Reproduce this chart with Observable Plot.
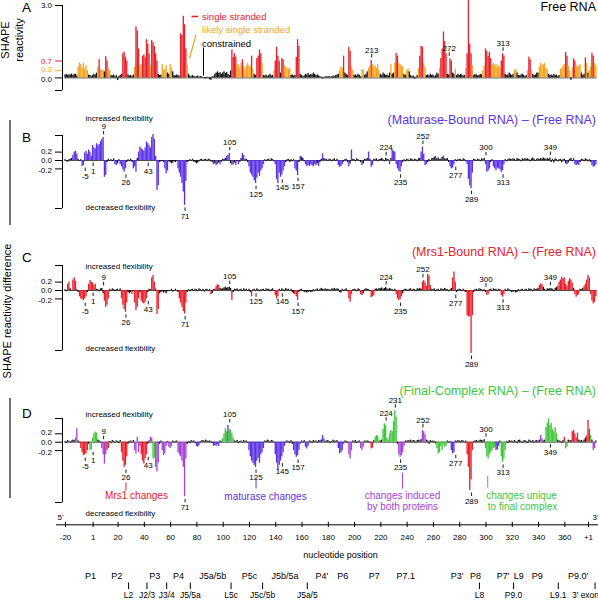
<!DOCTYPE html>
<html><head><meta charset="utf-8">
<script src="https://cdn.jsdelivr.net/npm/d3@7"></script>
<script src="https://cdn.jsdelivr.net/npm/@observablehq/plot@0.6"></script>
<style>
body{margin:0;background:#fff;}
#fig{position:relative;width:598px;height:600px;overflow:hidden;background:#fff;}
#fig svg{position:absolute;left:0;}
</style></head><body><div id="fig"></div>
<script>
// ---------- DATA (one value per nucleotide, from -20 to +384 on the position axis) ----------
const firstNt = -20;
const freeRNA = [
 .12,.15,.1,.13,.12,.16,.1,.14,.15,.08,
 .45,.62,.55,.4,.6,.35,.5,.3,.12,.1,
 .05,.1,.15,.12,.2,.45,.76,.32,.35,.3,
 .25,.88,.7,.38,.32,.1,.08,.12,.05,.1,
 -.11,.06,.1,.15,1.0,1.07,.86,.7,.12,.08,
 .1,.05,.12,.45,2.12,1.95,1.2,.5,.55,.9,
 .95,.85,1.58,1.4,1.0,.5,1.55,1.45,1.3,1.0,
 .7,.15,.1,.12,.55,.3,.35,.5,.2,.15,
 .55,.4,.25,.1,.08,.12,.1,.05,1.83,1.75,
 2.55,2.2,1.2,.5,.15,.08,.05,.1,.06,.04,
 .05,.08,.03,.06,.04,.02,-.03,-.05,.03,.02,
 -.08,-.1,.05,.04,.15,.2,.25,.18,.22,.15,
 .2,.25,.18,.22,.15,.1,.28,1.16,.85,1.0,
 .85,.5,.55,.4,.6,.75,.45,.35,.5,.6,
 .5,.45,.9,.35,.15,.1,.8,.9,1.16,1.0,
 .6,.1,.08,.12,.05,.1,.15,.08,.1,.3,
 .7,1.27,.9,.7,.2,.8,.75,.5,.45,.4,
 .35,.4,.1,.12,.08,.1,.85,1.58,1.3,.15,
 .1,.05,.08,.15,.12,.18,.1,.15,.12,.2,
 .15,.1,.12,.08,.05,.03,-.05,.02,.04,.05,
 .04,.06,.03,.05,.08,.05,.1,.12,.15,.3,
 .45,.4,.9,.2,.15,.1,1.27,1.1,.45,.3,
 .1,.12,.08,.15,.1,.05,.35,.3,.1,.15,
 .25,.4,.5,.72,.55,.45,.5,.4,.55,.3,
 .15,.1,.2,.15,.1,.12,.08,.2,.55,.15,
 .2,.6,1.02,.9,.6,.55,.5,.45,.15,.1,
 .3,.35,.25,.1,.05,.08,-.05,.03,.1,.4,
 .9,1.3,1.28,.6,.45,.1,.12,.08,.15,.1,
 .12,.05,.1,.2,.15,.4,.8,1.2,1.9,1.5,
 1.0,.15,.12,.79,.7,.2,.15,.35,.1,.15,
 .1,.15,.12,.08,.1,.4,1.0,3.2,1.4,1.0,
 .5,.1,.15,.12,.08,.1,.15,.12,.3,.5,
 1.2,1.1,.9,1.06,.8,.55,.6,.5,.55,.45,
 .5,.4,.7,1.0,.9,.15,.1,.12,.2,.15,
 .1,.15,.3,.35,.2,.1,.08,.12,.15,.1,
 .05,.1,.3,.86,.75,.3,.15,.1,.12,.2,
 .2,.45,.6,.5,.55,.6,.4,.35,.15,.1,
 .12,.08,.15,.1,.12,.05,.1,.35,.4,.5,
 .55,1.06,.9,.5,.3,-.1,.4,.79,.7,.5,
 .45,.5,.55,.2,.1,.15,.83,.6,.2,.3,
 .45,1.02,.9,.6,.5
];
const maturaseDiff = [
 .02,-.03,-.04,.02,.03,.05,.12,.2,.22,.15,
 .03,-.02,.02,-.14,-.12,.18,.22,.15,.25,.2,
 .1,.36,.3,.28,.4,.35,.38,.45,.5,.55,
 -.4,-.35,-.05,.03,-.02,.02,-.03,.04,-.1,-.12,
 -.08,.02,-.1,-.15,-.22,-.28,-.2,-.05,.02,-.03,
 .03,-.05,-.2,-.15,-.28,.05,.2,.32,.28,.25,
 .22,.3,.44,.4,.35,.3,.55,.62,.5,.1,
 -.71,-.6,-.05,-.03,-.02,-.05,-.2,-.32,-.25,-.03,
 -.05,-.08,-.06,-.03,-.05,-.02,-.2,-.3,-.4,-.55,
 -.75,-1.07,-.5,-.05,-.03,.02,-.02,.03,-.04,-.05,
 -.08,-.06,-.03,.02,.03,-.02,.02,.03,-.02,.03,
 .02,-.03,-.05,-.1,-.08,-.12,-.1,-.06,-.1,-.04,
 .03,.02,.05,.1,.12,.17,-.08,-.12,-.1,-.06,
 -.12,-.03,-.1,-.04,.05,.17,.12,.02,.03,-.05,
 -.15,-.3,-.35,-.4,-.48,-.55,-.42,-.3,-.38,-.25,
 -.2,-.1,.02,-.03,.02,.03,-.02,.04,.02,-.03,
 -.1,-.45,-.55,-.3,-.4,-.35,-.25,-.15,-.05,.02,
 .03,-.05,.02,-.03,.02,-.2,-.25,-.36,-.05,.1,
 .08,.05,-.03,-.1,-.15,-.12,-.14,-.1,-.13,-.15,
 -.1,-.12,-.08,-.14,-.05,.03,.16,.05,.02,.03,
 -.02,.03,.02,-.03,.02,.04,-.02,.03,-.12,-.16,
 -.14,-.1,-.04,.02,.03,-.05,-.15,-.08,.25,.03,
 .02,-.03,.04,.02,-.02,-.05,-.12,-.08,.03,.02,
 .05,.2,.03,-.16,-.12,.03,.02,.04,-.03,.02,
 .03,.05,.02,-.03,.05,.03,.02,-.1,.05,.25,
 .22,.2,-.1,-.2,-.25,-.28,-.15,-.05,.02,-.03,
 .03,.02,-.02,.04,.03,-.02,.03,.02,-.03,.04,
 .05,.2,.32,.15,-.12,-.1,-.05,.03,-.02,.04,
 .05,.08,.1,.04,.06,.02,.03,.08,.1,.04,
 .03,.05,-.05,-.15,-.2,-.18,-.1,.02,-.03,.02,
 .03,.02,-.02,.04,.02,-.03,-.1,-.45,-.6,-.67,
 -.3,.03,.02,-.02,.03,.02,-.03,.04,.02,.05,
 -.1,-.28,-.25,-.2,-.05,.02,-.15,-.2,-.24,-.18,
 -.2,-.22,-.28,-.24,-.1,.02,-.03,.02,.04,.03,
 .02,.04,.03,-.02,.05,.03,.02,-.03,.04,.02,
 .05,.03,.04,.02,-.03,.04,.06,.03,-.02,.03,
 .04,.02,.05,.03,.06,.04,.02,.05,.03,.06,
 -.05,.03,-.06,.04,.02,-.03,.02,.03,-.05,.02,
 .03,-.08,-.1,-.06,.03,.05,-.03,.04,-.1,-.12,
 -.1,-.12,-.05,.03,.02,-.03,.04,.02,-.03,.02,
 -.05,-.12,-.16,-.14,-.1
];
const mrs1Diff = [
 .02,-.03,.15,.2,.04,-.02,.25,.3,.22,.02,
 -.05,-.15,-.2,-.22,-.24,-.2,-.15,-.05,.15,.24,
 .2,.18,.12,.15,.03,.02,-.03,.04,.05,-.08,
 -.25,-.4,-.35,-.2,.03,-.02,.04,.02,-.03,.02,
 .03,-.02,.04,-.2,-.35,-.45,-.52,-.3,-.05,-.08,
 -.05,-.1,-.03,-.3,-.48,-.4,-.2,-.05,-.25,-.3,
 -.32,-.28,-.2,-.05,.03,.02,.3,.36,.2,.03,
 -.57,-.45,-.08,-.05,-.03,-.06,-.04,-.08,-.03,-.02,
 -.02,.03,-.04,-.02,.03,-.02,-.05,-.2,-.3,-.4,
 -.5,-.56,-.3,-.05,.02,-.03,.02,.03,-.02,.03,
 .02,-.03,.04,.02,-.02,.03,-.04,.02,.03,-.02,
 .02,-.1,-.08,.02,.03,.1,.14,.12,.05,.03,
 .04,.06,.08,.05,.07,.08,.05,-.24,-.05,.03,
 .02,.04,-.03,.02,.03,-.02,.04,.02,.03,-.02,
 .03,-.05,-.15,.02,.03,-.02,.04,.02,-.03,.02,
 .02,.03,-.02,.04,.02,.03,-.03,.02,.04,-.02,
 -.12,-.2,-.15,.03,-.02,.04,.02,-.03,.05,.02,
 .03,-.02,.03,-.05,-.08,-.1,-.15,-.24,-.05,.02,
 .03,-.02,-.05,-.04,-.06,-.05,-.03,-.05,-.04,.02,
 -.03,.02,.04,-.02,.03,.05,.03,.02,.04,.02,
 .03,.02,-.02,.04,.03,.05,.02,.04,.03,-.05,
 -.06,.03,-.02,.02,.04,-.03,-.2,-.28,-.1,.02,
 .03,.02,-.03,.04,.02,-.1,-.12,-.08,.02,.04,
 .03,.02,-.02,-.17,-.15,-.12,.03,.04,.02,.05,
 .04,.06,.03,.05,.07,.04,.02,.05,.03,.02,
 -.02,.03,-.1,-.2,-.24,-.22,-.15,-.08,.02,.03,
 .02,-.02,.03,.04,-.02,.03,.02,-.03,.04,.03,
 .05,.03,.2,.24,.18,.1,.38,.35,.12,.03,
 .02,.04,-.03,.02,.03,-.02,.04,.03,.02,.05,
 .03,.02,-.03,.02,.05,.3,.44,.2,-.05,.02,
 .03,.02,-.02,.03,-.03,-.05,-.6,-.63,-.62,-1.5,
 -.6,-.05,.02,.03,-.02,.04,.03,.02,-.03,.02,
 -.05,-.12,-.1,.02,.03,-.02,.04,.02,.03,-.02,
 .03,.02,-.12,-.16,-.1,.03,-.02,.04,.02,-.03,
 -.05,-.04,-.03,-.06,-.05,.02,-.03,.02,.03,-.02,
 .02,.03,-.02,.04,.03,.02,-.03,.04,.02,.03,
 .05,.12,.16,.14,.08,.03,-.02,.04,.03,.05,
 .04,.03,-.03,.05,.08,.1,.2,.25,.32,.28,
 .3,.15,.1,.22,.28,.25,.18,.05,-.1,-.16,
 -.12,-.1,.03,.02,.05,.1,.15,.25,.36,.3,
 -.1,-.25,-.32,-.28,-.15
];
const finalDiff = [
 .02,-.03,.04,.02,-.02,.03,.05,.04,.1,.32,
 .03,-.02,-.15,-.25,-.32,-.3,-.28,-.2,-.05,-.2,
 -.18,.1,.2,.24,.22,.05,.03,-.02,-.15,-.3,
 -.52,-.3,-.2,-.15,.02,-.03,.04,.02,-.02,.03,
 .02,-.03,.04,-.25,-.45,-.6,-.55,-.35,-.05,.02,
 .03,-.02,.04,-.2,-.28,.12,-.25,-.1,-.3,-.45,
 -.52,-.4,-.3,-.05,.03,.12,.1,-.4,-.38,-.6,
 -.71,-.5,-.05,.03,-.2,-.32,-.28,-.1,.02,-.12,
 -.15,-.1,.03,-.02,.02,.03,-.25,-.3,-.35,-.45,
 -.6,-1.3,-.4,-.05,.02,-.03,.04,.02,.03,-.02,
 -.1,-.12,-.08,.02,.03,.04,.02,.05,.03,.02,
 .03,.02,-.03,-.1,-.08,-.1,-.06,-.1,.03,.02,
 .08,.2,.32,.25,.4,.3,.28,.2,.1,.03,
 .02,.04,-.03,.02,.03,-.02,.04,.02,.03,-.02,
 -.2,-.35,-.45,-.5,-.55,-.6,-.45,-.38,-.5,-.3,
 -.25,-.15,.03,.02,.05,.03,-.02,.04,.03,-.02,
 -.3,-.5,-.67,-.55,-.45,-.35,-.25,-.1,.02,.03,
 .02,-.03,.04,-.05,-.2,-.3,-.36,-.32,-.2,-.05,
 .03,-.02,.04,-.12,-.16,-.1,.03,.02,-.03,.04,
 .02,.03,-.02,.04,.03,.05,.16,.08,.02,.03,
 .04,.02,-.03,.02,.05,.03,.02,.04,-.15,-.28,
 -.25,-.2,-.05,.03,.02,-.03,-.3,-.4,-.2,.03,
 .02,.04,-.03,.02,.03,-.15,-.2,-.12,.03,.02,
 .03,.02,-.02,-.16,-.14,.04,.12,.16,.14,.05,
 .03,.05,.3,.44,.4,.1,.05,.2,.28,.25,
 .5,.75,.6,-.05,-.3,-.36,-.32,-.25,-.1,.03,
 .02,.04,.03,.05,.02,.04,.03,-.02,.04,.05,
 .03,.06,.28,.25,.18,.05,.03,-.05,.04,.02,
 .03,.02,-.04,-.15,-.28,-.25,-.1,-.2,-.05,-.12,
 -.1,.03,-.02,.02,-.2,-.28,-.25,.03,.02,.04,
 .03,.02,.04,.03,-.02,.03,-.3,-.6,-1.15,-.9,
 -.2,.02,.03,.04,.02,.03,.05,.04,.03,.06,
 -.15,-.35,-.4,-.3,-.25,-.2,-.15,-.12,-.2,-.18,
 -.1,.03,-.35,-.48,-.4,-.2,.02,-.03,.04,.02,
 .03,-.02,.04,.02,-.03,.04,.05,.02,-.02,.03,
 .04,.02,-.03,.05,.03,.02,.04,-.02,.03,.04,
 .02,.05,.16,.08,.03,.05,.35,.45,.56,.4,
 .45,.3,.25,.35,.2,.05,.03,.02,-.03,.04,
 .12,-.16,-.12,.05,.03,.04,.25,.28,.2,.1,
 .22,.05,.03,.04,.02,.05,.1,.15,.52,.3,
 .16,.05,-.2,-.15,.03
];
// nucleotide ranges of the final complex, by which protein causes the change
const finalCategories = [
 [-12,-11,"both"],[-8,-3,"mrs1"],[-1,4,"final"],[8,11,"both"],[12,13,"mrs1"],[23,27,"mrs1"],
 [33,37,"both"],[38,42,"mrs1"],[45,46,"both"],[47,48,"final"],[49,51,"both"],[54,57,"both"],
 [59,61,"both"],[66,72,"both"],[80,82,"mat"],[93,97,"mat"],[100,103,"final"],[104,104,"mat"],
 [105,108,"final"],[120,131,"mat"],[140,147,"mat"],[154,159,"mat"],[163,165,"mat"],[176,177,"mat"],
 [188,192,"mat"],[196,198,"both"],[205,207,"both"],[213,214,"mrs1"],[216,219,"final"],[222,232,"final"],
 [234,238,"both"],[252,254,"both"],[263,270,"final"],[274,276,"mat"],[286,290,"mrs1"],[300,307,"final"],
 [308,310,"mat"],[312,315,"final"],[342,343,"both"],[346,354,"final"],[360,360,"mrs1"],[361,362,"final"],
 [366,370,"mrs1"],[377,379,"mrs1"],[380,380,"final"],[382,383,"both"]
];
const freeLabels = [[213,"up"],[272,"up"],[313,"up"]];
const diffLabels = [[9,"up"],[105,"up"],[224,"up"],[252,"up"],[300,"up"],[349,"up"],
 [-5,"down"],[1,"down"],[26,"down"],[43,"down"],[71,"down"],[125,"down"],[145,"down"],[157,"down"],
 [235,"down"],[277,"down"],[289,"down"],[313,"down"]];
const finalLabels = [[9,"up"],[105,"up"],[224,"up"],[231,"up"],[252,"up"],[300,"up"],
 [-5,"down"],[1,"down"],[26,"down"],[43,"down"],[71,"down"],[125,"down"],[145,"down"],[157,"down"],
 [235,"down"],[277,"down"],[289,"down"],[313,"down"],[349,"down"]];
const xTickValues = [-20,1,20,40,60,80,100,120,140,160,180,200,220,240,260,280,300,320,340,360,378];
const xTickLabels = ["-20","1","20","40","60","80","100","120","140","160","180","200","220","240","260","280","300","320","340","360","+1"];
const domainTopNames = ["P1","P2","P3","P4","J5a/5b","P5c","J5b/5a","P4'","P6","P7","P7.1","P3'","P8","P7'","L9","P9","P9.0'"];
const domainTopPos =   [-1,19,48,66,92,120,147,175,191,215,239,278,292,313,325,339,370];
const domainLowNames = ["L2","J2/3","J3/4","J5/5a","L5c","J5c/5b","J5a/5","L8","P9.0","L9.1","3' exon"];
const domainLowPos =   [28,42,57,75,106,130,164,295,321,355,383];

// ---------- STYLE / LAYOUT ----------
const FONT = '"Liberation Sans", Arial, Helvetica, sans-serif';
const C = {red:"#e8202a", orange:"#f4a51c", purple:"#5a33e4", both:"#a444d6", final:"#3fc63b", mrs1:"#e8202a", mat:"#5a33e4", black:"#141414"};
const X_DOMAIN = [-20, 378], X_RANGE = [65, 588];
const px2nt = d3.scaleLinear(X_RANGE, X_DOMAIN);
const fig = document.getElementById("fig");

function tipAt(arr, nt, side) {
  const vs = [nt-1, nt, nt+1].map(n => arr[n - firstNt] ?? 0);
  return side === "up" ? Math.max(0, ...vs) : Math.min(0, ...vs);
}

function panel(cfg) {
  const {arr, color, top, height, mt, mb, zero, k, ticks, labels, notes = [], extra = () => []} = cfg;
  const lo = -(height - mb - zero) / k, hi = (zero - mt) / k;
  const val = px => (zero - px) / k;
  const rows = arr.map((v, i) => ({nt: i + firstNt, v}));
  const lab = labels.map(([nt, side]) => {
    const t = tipAt(arr, nt, side), s = side === "up" ? 1 : -1;
    return {nt, t1: t + s * 2.5 / k, t2: t + s * 6 / k, ty: t + s * 10.5 / k};
  });
  const tk = ticks.map(t => {
    const v = t[0] === "hi" ? hi : t[0] === "lo" ? lo : t[0];
    return {v, label: t[1], c: t[2] || "#000", ly: v - (t[3] || 0) / k};
  });
  const axX = px2nt(62);
  const chart = Plot.plot({
    width: 598, height, marginTop: mt, marginBottom: mb, marginLeft: 62, marginRight: 10,
    x: {domain: X_DOMAIN, range: X_RANGE, axis: null},
    y: {domain: [lo, hi], axis: null},
    color: {type: "identity"},
    style: {background: "transparent", overflow: "visible", fontFamily: FONT},
    marks: [
      Plot.ruleY([0], {x1: -20.5, x2: 384.5, stroke: "#000", strokeWidth: 0.7}),
      Plot.rect(rows, {x1: r => r.nt - 0.5, x2: r => r.nt + 0.5, y1: 0, y2: "v", fill: r => color(r)}),
      Plot.ruleX([axX], {y1: lo, y2: hi, stroke: "#000", strokeWidth: 1}),
      Plot.ruleY(tk, {y: "v", x1: px2nt(55), x2: axX, stroke: "c", strokeWidth: 1}),
      Plot.text(tk.filter(t => t.label), {x: px2nt(51.5), y: "ly", text: "label", fill: "c", textAnchor: "end", fontSize: 8}),
      Plot.ruleX(lab, {x: "nt", y1: "t1", y2: "t2", stroke: "#000", strokeWidth: 0.9}),
      Plot.text(lab, {x: "nt", y: "ty", text: r => String(r.nt), fontSize: 8, fill: "#000"}),
      Plot.text(notes, {x: n => px2nt(n.x), y: n => val(n.y), text: "t", fill: n => n.c || "#000",
        fontSize: 8, textAnchor: "start"}),
      ...extra(val)
    ]
  });
  chart.style.top = top + "px";
  fig.appendChild(chart);
}

const colorA = r => r.v >= 0.7 ? C.red : r.v >= 0.3 ? C.orange : C.black;
const colorB = r => Math.abs(r.v) >= 0.09 ? C.purple : C.black;
const colorC = r => Math.abs(r.v) >= 0.09 ? C.red : C.black;
const colorD = r => {
  const f = finalCategories.find(([a, b]) => r.nt >= a && r.nt <= b);
  return f ? C[f[2]] : C.black;
};
const diffTicks = [["hi",""],[0.2,"0.2","#000",-1],[0,"0.0"],[-0.2,"-0.2","#000",1.5],["lo",""]];

// Panel A
panel({arr: freeRNA, color: colorA, top: 0, height: 100, mt: 5, mb: 10, zero: 77.4, k: 24.15,
  ticks: [["hi","3.0"],[0.7,"0.7",C.red,0],[0.3,"0.3",C.orange,-0.8],[0,"0.0","#000",1.2],["lo",""]],
  labels: freeLabels,
  extra: val => [
    Plot.link([{a: px2nt(191), b: px2nt(197.5), y: val(16)}], {x1: "a", x2: "b", y1: "y", y2: "y", stroke: C.red, strokeWidth: 1.6}),
    Plot.link([{a: px2nt(195.5), b: px2nt(189), y1: val(34), y2: val(58)}], {x1: "a", x2: "b", y1: "y1", y2: "y2", stroke: C.orange, strokeWidth: 1.2}),
    Plot.link([{a: px2nt(203), y1: val(47), y2: val(75)}], {x1: "a", x2: "a", y1: "y1", y2: "y2", stroke: "#000", strokeWidth: 1}),
    Plot.text([{t: "single stranded", c: C.red, y: 16}, {t: "likely single stranded", c: C.orange, y: 29}, {t: "constrained", c: "#000", y: 43}],
      {x: px2nt(201.5), y: d => val(d.y), text: "t", fill: "c", textAnchor: "start", fontSize: 9.5})
  ]});

// Panel B
panel({arr: maturaseDiff, color: colorB, top: 100, height: 130, mt: 35, mb: 22, zero: 60, k: 42,
  ticks: diffTicks, labels: diffLabels,
  notes: [{t: "increased flexibility", x: 85, y: 17.5}, {t: "decreased flexibility", x: 85, y: 107}]});

// Panel C
panel({arr: mrs1Diff, color: colorC, top: 230, height: 150, mt: 35, mb: 30, zero: 60, k: 42,
  ticks: diffTicks, labels: diffLabels,
  notes: [{t: "increased flexibility", x: 85, y: 36}, {t: "decreased flexibility", x: 85, y: 118}]});

// Panel D
panel({arr: finalDiff, color: colorD, top: 380, height: 140, mt: 38, mb: 18, zero: 61.7, k: 42,
  ticks: diffTicks, labels: finalLabels,
  notes: [{t: "increased flexibility", x: 85, y: 34}, {t: "decreased flexibility", x: 85, y: 133}],
  extra: val => [
    Plot.link([
      {x: 26, a: 102, b: 110, c: C.red}, {x: 125, a: 97, b: 108, c: C.purple},
      {x: 236.5, a: 92, b: 108, c: C.both}, {x: 301.3, a: 95, b: 107, c: C.final}],
      {x1: "x", x2: "x", y1: d => val(d.a), y2: d => val(d.b), stroke: "c", strokeWidth: 1}),
    Plot.text([
      {t: "Mrs1 changes", x: 136, y: 115, c: C.red}, {t: "maturase changes", x: 265, y: 116, c: C.purple},
      {t: "changes induced", x: 402, y: 115, c: C.both}, {t: "by both proteins", x: 402, y: 126, c: C.both},
      {t: "changes unique", x: 521, y: 115, c: C.final}, {t: "to final complex", x: 522, y: 126, c: C.final}],
      {x: d => px2nt(d.x), y: d => val(d.y), text: "t", fill: "c", fontSize: 10})
  ]});

// Bottom nucleotide axis and domain names
const domTop = domainTopNames.map((name, i) => ({name, nt: domainTopPos[i]}));
const domLow = domainLowNames.map((name, i) => ({name, nt: domainLowPos[i]}));
const axisChart = Plot.plot({
  width: 598, height: 95, margin: 0,
  x: {domain: X_DOMAIN, range: X_RANGE, axis: null},
  y: {domain: [505, 600], range: [0, 95], axis: null},
  style: {background: "transparent", overflow: "visible", fontFamily: FONT},
  marks: [
    Plot.ruleY([524.3], {x1: px2nt(56), x2: px2nt(598), stroke: "#000", strokeWidth: 1}),
    Plot.ruleX(xTickValues, {y1: 521.8, y2: 527, stroke: "#000", strokeWidth: 1}),
    Plot.text(xTickValues, {x: d => d, y: 537, text: (d, i) => xTickLabels[i], fontSize: 8, fill: "#000"}),
    Plot.text(["5'"], {x: px2nt(60), y: 516.5, fontSize: 8, fill: "#000"}),
    Plot.text(["3'"], {x: px2nt(595), y: 516.5, fontSize: 8, fill: "#000"}),
    Plot.text(["nucleotide position"], {x: px2nt(340), y: 555, fontSize: 9, fill: "#000"}),
    Plot.text(domTop, {x: "nt", y: 576, text: "name", fontSize: 9, fill: "#000"}),
    Plot.ruleX(domLow, {x: "nt", y1: 582.5, y2: 589, stroke: "#000", strokeWidth: 1}),
    Plot.text(domLow.filter(d => d.name !== "3' exon"), {x: "nt", y: 594.3, text: "name", fontSize: 8.5, fill: "#000"}),
    Plot.text(domLow.filter(d => d.name === "3' exon"), {x: "nt", y: 594.3, text: "name", fontSize: 8.5, fill: "#000", textAnchor: "end", dx: 4})
  ]
});
axisChart.style.top = "505px";
fig.appendChild(axisChart);

// Panel letters, titles and side labels
const ov = d3.select(fig).append("svg").attr("width", 598).attr("height", 600)
  .style("top", "0px").style("font-family", FONT);
[["A", 12], ["B", 142], ["C", 262], ["D", 418]].forEach(([t, y]) =>
  ov.append("text").attr("x", 22).attr("y", y).attr("font-size", 13.5).text(t));
[["Free RNA", 10.5, "#000"], ["(Maturase-Bound RNA) – (Free RNA)", 124, C.purple],
 ["(Mrs1-Bound RNA) – (Free RNA)", 256, C.red], ["(Final-Complex RNA) – (Free RNA)", 395, C.final]]
 .forEach(([t, y, c]) => ov.append("text").attr("x", 596).attr("y", y).attr("text-anchor", "end")
   .attr("font-size", 12.5).attr("fill", c).text(t));
[["SHAPE", 9, 40], ["reactivity", 23, 40], ["SHAPE reactivity difference", 10.5, 311]].forEach(([t, x, y]) =>
  ov.append("text").attr("transform", `translate(${x},${y}) rotate(-90)`).attr("text-anchor", "middle")
    .attr("font-size", 11).text(t));
[[120, 225], [398, 498]].forEach(([a, b]) =>
  ov.append("line").attr("x1", 10).attr("x2", 10).attr("y1", a).attr("y2", b).attr("stroke", "#444").attr("stroke-width", 1.5));
</script>
</body></html>
